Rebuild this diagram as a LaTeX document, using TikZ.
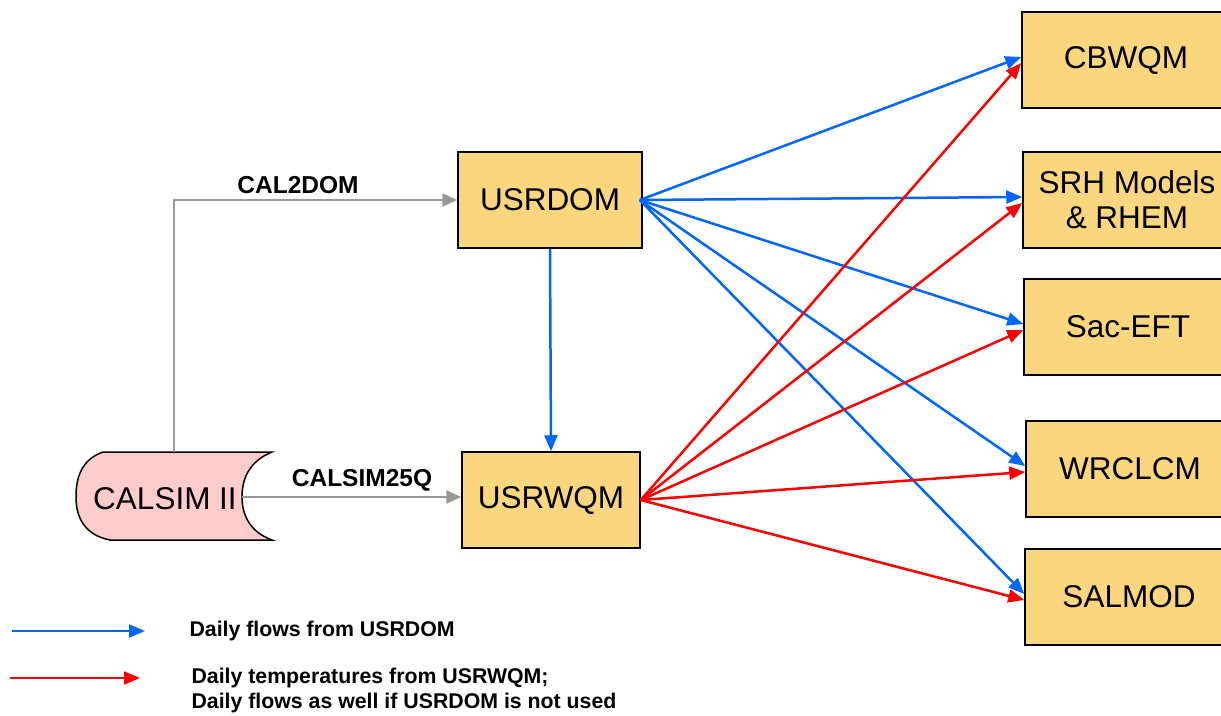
\documentclass[tikz,border=0pt]{standalone}
\usepackage{fontspec}
\setmainfont{Liberation Sans}
\usetikzlibrary{arrows.meta,positioning}
\definecolor{boxfill}{RGB}{250,214,127}
\definecolor{calfill}{RGB}{255,204,204}
\definecolor{flowblue}{RGB}{0,102,255}
\definecolor{tempred}{RGB}{255,0,0}
\definecolor{linkgray}{RGB}{153,153,153}
\tikzset{
  model/.style={draw=black,line width=1.5pt,fill=boxfill,minimum height=96pt,inner sep=0pt,
    align=center,font=\fontsize{31.5}{35}\selectfont},
  flowB/.style={flowblue,line width=2.5pt,-{Triangle[length=16pt,width=13pt]}},
  flowR/.style={tempred,line width=2.5pt,-{Triangle[length=16pt,width=13pt]}},
  link/.style={linkgray,line width=2.5pt,-{Triangle[length=15pt,width=13pt]}},
  linklabel/.style={font=\bfseries\fontsize{24.5}{28}\selectfont},
  legendtext/.style={anchor=west,align=left,font=\bfseries\fontsize{21.3}{25}\selectfont}
}

\begin{document}
\begin{tikzpicture}[x=1pt,y=-1pt]
\clip (0,0) rectangle (1221,715);
% source and the two upper-stream models
\draw[fill=calfill,line width=1.5pt] (103,452) -- (272,452)
  .. controls (248,462) and (242,480) .. (242,497)
  .. controls (242,515) and (250,532) .. (272,540) -- (110,540)
  .. controls (85,535) and (76,518) .. (76,497)
  .. controls (76,480) and (80,460) .. (103,452) -- cycle;
\node[font=\fontsize{31.5}{35}\selectfont] (calsim) at (165,499) {CALSIM II};
\coordinate (calTop) at (174,452);
\coordinate (calNotch) at (242,497);
\node[model,minimum width=184pt] (usrdom) at (550,200) {USRDOM};
\node[model,minimum width=178pt] (usrwqm) at (551,500) {USRWQM};
% downstream models
\node[model,minimum width=208pt] (cbwqm) at (1126,60) {CBWQM};
\node[model,minimum width=208pt] (srh) at (1127,200) {SRH Models\\\& RHEM};
\node[model,minimum width=208pt] (saceft) at (1128,327) {Sac-EFT};
\node[model,minimum width=208pt] (wrclcm) at (1130,469) {WRCLCM};
\node[model,minimum width=208pt] (salmod) at (1129,597) {SALMOD};
% gray links
\draw[link] (calTop) |- (usrdom.west);
\node[linklabel] (cal2dom) at (298,185) {CAL2DOM};
\draw[link] (calNotch) -- (usrwqm.west |- calNotch);
\node[linklabel] (cal25q) at (362,480) {CALSIM25Q};
% daily flows
\draw[flowB] (usrdom.south) -- (usrwqm.north);
\foreach \m in {cbwqm,srh,saceft,wrclcm,salmod}
  \draw[flowB] ([xshift=-3pt]usrdom.east) -- ([yshift=3pt]\m.west);
% daily temperatures
\foreach \m in {cbwqm,srh,saceft,wrclcm,salmod}
  \draw[flowR] (usrwqm.east) -- ([yshift=-3pt]\m.west);
% legend
\coordinate (legBfrom) at (12,631);
\coordinate (legBto) at (145,631);
\coordinate (legRfrom) at (10,678);
\coordinate (legRto) at (140,678);
\draw[flowB,line width=2pt] (legBfrom) -- (legBto);
\draw[flowR,line width=2pt] (legRfrom) -- (legRto);
\node[legendtext] (legB) at (186,631) {Daily flows from USRDOM};
\node[legendtext] (legR) at (188,690) {Daily temperatures from USRWQM;\\Daily flows as well if USRDOM is not used};
\end{tikzpicture}
\end{document}
